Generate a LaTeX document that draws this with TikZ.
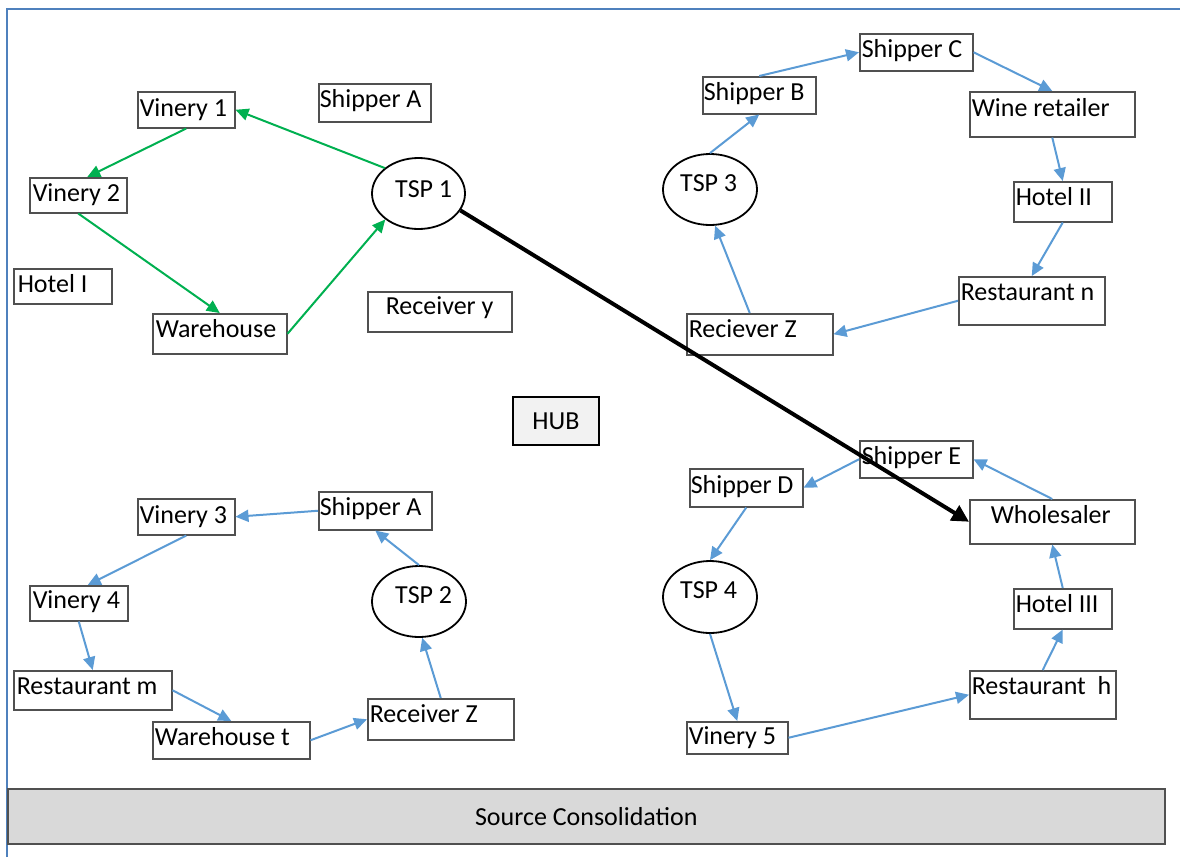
\documentclass[tikz,border=0pt]{standalone}
\usepackage{fontspec}
\setmainfont{Carlito}
\usetikzlibrary{arrows.meta,shapes.geometric,calc}

\definecolor{flowgreen}{HTML}{00B050}
\definecolor{flowblue}{HTML}{5B9BD5}
\definecolor{boxline}{HTML}{505050}
\definecolor{framecol}{HTML}{4F81BD}
\definecolor{hubfill}{HTML}{F2F2F2}
\definecolor{barfill}{HTML}{D9D9D9}

\newcommand\labelsize{\fontsize{26}{31}\selectfont}

% A text box given by its corners, the left padding of its text and
% the distance from the top edge to the text baseline.
\newcommand\placebox[8]{%
  \pgfmathsetlengthmacro\bxw{(#4)-(#2)}%
  \pgfmathsetlengthmacro\bxd{(#5)-(#3)-(#7)}%
  \node[entity, anchor=north west, text height=#7pt, text depth=\bxd]
    (#1) at (#2,#3) {\makebox[\bxw][l]{\hspace*{#6pt}#8}};%
}

\begin{document}
\begin{tikzpicture}[x=1pt, y=-1pt,
  lbl/.style={inner sep=0pt, font=\labelsize},
  entity/.style={draw=boxline, line width=1.5pt, fill=white, rectangle,
    inner sep=0pt, font=\labelsize},
  oval/.style={draw=black, line width=1.8pt, fill=white, ellipse, inner sep=0pt},
  garrow/.style={draw=flowgreen, line width=2pt,
    -{Triangle[length=13pt,width=12pt]}},
  barrow/.style={draw=flowblue, line width=2pt,
    -{Triangle[length=13pt,width=12pt]}},
  karrow/.style={draw=black, line width=4pt,
    -{Triangle[length=17pt,width=17pt]}}]

\useasboundingbox (0,0) rectangle (1180,857);

% outer frame
\draw[framecol, line width=1.4pt] (7,857) -- (7,9) -- (1180,9);

% ---- cluster 1 (TSP 1) ----
\placebox{v1}{137}{91}{234}{127}{2}{25}{Vinery 1}
\placebox{shA1}{318}{83}{430}{121}{1}{24}{Shipper A}
\placebox{v2}{29}{177}{126}{212}{3}{24}{Vinery 2}
\placebox{h1}{13}{268}{111}{303}{4}{24}{Hotel I}
\placebox{wh}{152}{313}{286}{353}{3}{24}{Warehouse}
\placebox{ry}{367}{291}{511}{331}{18}{23}{Receiver y}
\node[oval, minimum width=93pt, minimum height=71pt] (tsp1) at (418.5,193.5) {};
\node[lbl, anchor=base west] (tsp1t) at (395,197) {TSP 1};

% ---- cluster 3 (TSP 3) ----
\placebox{shB}{702}{76}{815}{113}{1}{24}{Shipper B}
\placebox{shC}{859}{33}{972}{70}{2}{24}{Shipper C}
\placebox{wr}{969}{91}{1134}{136}{2}{25}{Wine retailer}
\placebox{h2}{1013}{181}{1111}{221}{2}{24}{Hotel II}
\placebox{rn}{958}{276}{1104}{324}{2}{24}{Restaurant n}
\placebox{rzA}{686}{313}{832}{354}{2}{24}{Reciever Z}
\node[oval, minimum width=94pt, minimum height=71pt] (tsp3) at (710,189.5) {};
\node[lbl, anchor=base west] (tsp3t) at (680,191) {TSP 3};

% ---- cluster 2 (TSP 2) ----
\placebox{v3}{137}{498}{234}{534}{2}{25}{Vinery 3}
\placebox{shA2}{318}{491}{431}{529}{1}{24}{Shipper A}
\placebox{v4}{29}{585}{127}{620}{3}{23}{Vinery 4}
\placebox{rm}{13}{670}{171}{709}{3}{24}{Restaurant m}
\placebox{wt}{152}{721}{309}{758}{2}{24}{Warehouse t}
\placebox{rzB}{367}{698}{513}{739}{2}{24}{Receiver Z}
\node[oval, minimum width=94pt, minimum height=71pt] (tsp2) at (419,601.5) {};
\node[lbl, anchor=base west] (tsp2t) at (395,603) {TSP 2};

% ---- cluster 4 (TSP 4) ----
\placebox{shE}{859}{440}{972}{477}{2}{24}{Shipper E}
\placebox{shD}{689}{468}{802}{506}{1}{25}{Shipper D}
\placebox{ws}{969}{499}{1134}{543}{21}{24}{Wholesaler}
\placebox{h3}{1013}{588}{1111}{628}{2}{24}{Hotel III}
\placebox{rh}{969}{670}{1115}{718}{2}{24}{Restaurant\ \ h}
\placebox{v5}{686}{721}{787}{753}{2}{23}{Vinery 5}
\node[oval, minimum width=94pt, minimum height=72pt] (tsp4) at (710,597) {};
\node[lbl, anchor=base west] (tsp4t) at (680,598) {TSP 4};

% hub and consolidation bar
\node[draw=black, fill=hubfill, line width=2pt, minimum width=86pt,
  minimum height=48pt, inner sep=0pt, anchor=north west,
  font=\labelsize] (hub) at (512,396) {HUB};
\node[draw=boxline, fill=barfill, line width=1.6pt, minimum width=1157pt,
  minimum height=55pt, inner sep=0pt, anchor=north west,
  font=\labelsize] (srcbar) at (7,788) {Source Consolidation};

% ---- green loop ----
\draw[garrow] (tsp1.143) -- (v1.east);
\draw[garrow] (v1.south) -- ([xshift=9pt]v2.north);
\draw[garrow] (v2.south) -- (wh.north);
\draw[garrow] (wh.east) -- (tsp1.218);

% ---- blue loop, TSP 3 ----
\draw[barrow] (tsp3.north) -- (shB.south);
\draw[barrow] (shB.north) -- (shC.west);
\draw[barrow] (shC.east) -- (wr.north);
\draw[barrow] (wr.south) -- (h2.north);
\draw[barrow] (h2.south) -- (rn.north);
\draw[barrow] (rn.west) -- (rzA.east);
\draw[barrow] ([xshift=-10pt]rzA.north) -- (tsp3.-82);

% ---- blue loop, TSP 2 ----
\draw[barrow] (tsp2.north) -- (shA2.south);
\draw[barrow] (shA2.west) -- (v3.east);
\draw[barrow] (v3.south) -- ([xshift=9pt]v4.north);
\draw[barrow] (v4.south) -- (rm.north);
\draw[barrow] (rm.east) -- (wt.north);
\draw[barrow] (wt.east) -- (rzB.west);
\draw[barrow] (rzB.north) -- (tsp2.-85);

% ---- blue loop, TSP 4 ----
\draw[barrow] (ws.north) -- (shE.east);
\draw[barrow] (shE.west) -- (shD.east);
\draw[barrow] (shD.south) -- (tsp4.north);
\draw[barrow] (tsp4.south) -- (v5.north);
\draw[barrow] (v5.east) -- (rh.west);
\draw[barrow] (rh.north) -- (h3.south);
\draw[barrow] (h3.north) -- (ws.south);

% ---- TSP 1 to the wholesaler ----
\draw[karrow] (tsp1.-22) -- (ws.west);

\end{tikzpicture}
\end{document}
